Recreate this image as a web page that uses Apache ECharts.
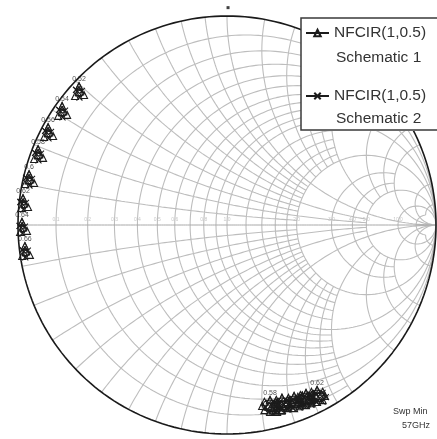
<!DOCTYPE html>
<html>
<head>
<meta charset="utf-8">
<script src="https://cdn.jsdelivr.net/npm/echarts@6/dist/echarts.min.js"></script>
<style>
  html, body { margin: 0; padding: 0; background: #ffffff; }
  #chart { width: 437px; height: 439px; }
</style>
</head>
<body>
<div id="chart"></div>
<script>
// Noise figure circles, reflection coefficient points [re, im], one group per circle
const schematic1Circles = [
  [[-0.708, 0.664], [-0.684, 0.622], [-0.727, 0.617], [-0.708, 0.664]],
  [[-0.789, 0.569], [-0.765, 0.527], [-0.808, 0.522], [-0.789, 0.569]],
  [[-0.856, 0.468], [-0.832, 0.426], [-0.875, 0.421], [-0.856, 0.468]],
  [[-0.904, 0.363], [-0.880, 0.321], [-0.923, 0.316], [-0.904, 0.363]],
  [[-0.947, 0.243], [-0.923, 0.201], [-0.966, 0.196], [-0.947, 0.243]],
  [[-0.976, 0.128], [-0.952, 0.086], [-0.985, 0.081], [-0.976, 0.128]],
  [[-0.981, 0.014], [-0.957, -0.028], [-0.990, -0.033], [-0.981, 0.014]],
  [[-0.967, -0.101], [-0.943, -0.143], [-0.980, -0.148], [-0.967, -0.101]],
  [[0.206, -0.837], [0.233, -0.846], [0.244, -0.866], [0.233, -0.886], [0.206, -0.895], [0.179, -0.886], [0.168, -0.866], [0.179, -0.846], [0.206, -0.837]],
  [[0.263, -0.827], [0.290, -0.836], [0.301, -0.856], [0.290, -0.876], [0.263, -0.885], [0.236, -0.876], [0.225, -0.856], [0.236, -0.836], [0.263, -0.827]],
  [[0.321, -0.818], [0.348, -0.827], [0.359, -0.847], [0.348, -0.867], [0.321, -0.876], [0.294, -0.867], [0.283, -0.847], [0.294, -0.827], [0.321, -0.818]],
  [[0.378, -0.804], [0.405, -0.813], [0.416, -0.833], [0.405, -0.853], [0.378, -0.862], [0.351, -0.853], [0.340, -0.833], [0.351, -0.813], [0.378, -0.804]],
  [[0.431, -0.789], [0.458, -0.798], [0.469, -0.818], [0.458, -0.838], [0.431, -0.847], [0.404, -0.838], [0.393, -0.818], [0.404, -0.798], [0.431, -0.789]],
  [[0.240, -0.850], [0.261, -0.856], [0.270, -0.872], [0.261, -0.888], [0.240, -0.894], [0.219, -0.888], [0.210, -0.872], [0.219, -0.856], [0.240, -0.850]],
  [[0.360, -0.816], [0.381, -0.822], [0.390, -0.838], [0.381, -0.854], [0.360, -0.860], [0.339, -0.854], [0.330, -0.838], [0.339, -0.822], [0.360, -0.816]]
];

const schematic2Circles = [
  [[-0.722, 0.646], [-0.694, 0.642], [-0.706, 0.610], [-0.722, 0.646]],
  [[-0.803, 0.551], [-0.775, 0.547], [-0.787, 0.515], [-0.803, 0.551]],
  [[-0.870, 0.450], [-0.842, 0.446], [-0.854, 0.414], [-0.870, 0.450]],
  [[-0.918, 0.345], [-0.890, 0.341], [-0.902, 0.309], [-0.918, 0.345]],
  [[-0.961, 0.225], [-0.933, 0.221], [-0.945, 0.189], [-0.961, 0.225]],
  [[-0.988, 0.110], [-0.962, 0.106], [-0.974, 0.074], [-0.988, 0.110]],
  [[-0.992, -0.004], [-0.967, -0.008], [-0.979, -0.040], [-0.992, -0.004]],
  [[-0.979, -0.119], [-0.953, -0.123], [-0.965, -0.155], [-0.979, -0.119]],
  [[0.184, -0.872], [0.200, -0.851], [0.232, -0.851], [0.248, -0.872], [0.232, -0.893], [0.200, -0.893], [0.184, -0.872]],
  [[0.241, -0.862], [0.257, -0.841], [0.289, -0.841], [0.305, -0.862], [0.289, -0.883], [0.257, -0.883], [0.241, -0.862]],
  [[0.299, -0.853], [0.315, -0.832], [0.347, -0.832], [0.363, -0.853], [0.347, -0.874], [0.315, -0.874], [0.299, -0.853]],
  [[0.356, -0.839], [0.372, -0.818], [0.404, -0.818], [0.420, -0.839], [0.404, -0.860], [0.372, -0.860], [0.356, -0.839]],
  [[0.409, -0.824], [0.425, -0.803], [0.457, -0.803], [0.473, -0.824], [0.457, -0.845], [0.425, -0.845], [0.409, -0.824]],
  [[0.272, -0.858], [0.286, -0.840], [0.314, -0.840], [0.328, -0.858], [0.314, -0.876], [0.286, -0.876], [0.272, -0.858]],
  [[0.387, -0.830], [0.401, -0.812], [0.429, -0.812], [0.443, -0.830], [0.429, -0.848], [0.401, -0.848], [0.387, -0.830]]
];

// Circle tags, one per circle of the first schematic (empty = untagged)
const circleLabels = ['0.52', '0.54', '0.56', '0.58', '0.6', '0.62', '0.64', '0.66', '0.58', '', '', '', '0.62', '', ''];

const seriesNames = ['Schematic 1', 'Schematic 2'];
const legendTitle = 'NFCIR(1,0.5)';
const sweepText = ['Swp Min', '57GHz'];
const topMarker = [[0.005, 1.04]];

// Smith grid: [resistance, |reactance| extent] and [reactance, resistance extent]; 0 = unbounded
const resistanceCircles = [
  [0.1, 2], [0.2, 0], [0.3, 2], [0.4, 2], [0.5, 0], [0.6, 2], [0.7, 2], [0.8, 2], [0.9, 2],
  [1.0, 0], [1.2, 2], [1.4, 2], [1.6, 2], [1.8, 2], [2.0, 0], [3.0, 5], [4.0, 5], [5.0, 0],
  [10, 0], [20, 20]
];
const reactanceArcs = [
  [0.1, 2], [0.2, 5], [0.3, 2], [0.4, 2], [0.5, 5], [0.6, 2], [0.7, 2], [0.8, 2], [0.9, 2],
  [1.0, 0], [1.2, 2], [1.4, 2], [1.6, 2], [1.8, 2], [2.0, 5], [3.0, 5], [4.0, 5], [5.0, 0],
  [10, 0], [20, 20]
];
const axisTickValues = [0.1, 0.2, 0.3, 0.4, 0.5, 0.6, 0.8, 1.0, 2.0, 3.0, 4.0, 5.0, 10];

const GAP = ['-', '-'];

// z = r + jx  ->  reflection coefficient (z - 1) / (z + 1)
function toGamma(r, x) {
  const den = (r + 1) * (r + 1) + x * x;
  return [((r - 1) * (r + 1) + x * x) / den, (2 * x) / den];
}

function resistanceCurve(r, lim) {
  const tMax = Math.atan(lim || 1e5);
  const n = 220, pts = [];
  for (let i = 0; i <= n; i++) {
    pts.push(toGamma(r, Math.tan(-tMax + (2 * tMax * i) / n)));
  }
  return pts;
}

function reactanceCurve(x, lim) {
  const sMax = Math.atan(lim || 1e5);
  const n = 160, pts = [];
  for (let i = 0; i <= n; i++) {
    pts.push(toGamma(Math.tan((sMax * i) / n), x));
  }
  return pts;
}

const gridData = [];
resistanceCircles.forEach(([r, lim]) => { gridData.push(...resistanceCurve(r, lim), GAP); });
reactanceArcs.forEach(([x, lim]) => {
  gridData.push(...reactanceCurve(x, lim), GAP);
  gridData.push(...reactanceCurve(-x, lim), GAP);
});

function joinCircles(groups) {
  const out = [];
  groups.forEach((g, i) => { if (i) out.push(GAP); out.push(...g); });
  return out;
}

const tickLabelData = axisTickValues.map(r => [toGamma(r, 0)[0], 0.028, r.toFixed(1)]);

const chart = echarts.init(document.getElementById('chart'), null, { renderer: 'canvas' });

const darkInk = '#1c1c1c';
const crossPath = 'path://M0,0L10,10M10,0L0,10';
const uiFont = 'Liberation Sans, Arial, sans-serif';

chart.setOption({
  animation: false,
  backgroundColor: '#ffffff',
  grid: { left: 18, top: 16, width: 418, height: 418 },
  xAxis: { type: 'value', min: -1, max: 1, show: false },
  yAxis: { type: 'value', min: -1, max: 1, show: false },
  legend: {
    data: seriesNames,
    left: 301,
    top: 18,
    orient: 'vertical',
    itemWidth: 23,
    itemHeight: 8,
    itemGap: 47,
    padding: [7, 40, 27, 4],
    backgroundColor: '#ffffff',
    borderWidth: 0,
    formatter: () => legendTitle,
    textStyle: { fontFamily: uiFont, fontSize: 15.5, color: '#333333' },
    z: 20
  },
  graphic: [
    // legend frame, running past the right edge of the canvas
    { type: 'rect', z: 100, silent: true,
      shape: { x: 301, y: 18, width: 180, height: 112 },
      style: { fill: 'none', stroke: '#3a3a3a', lineWidth: 1.5 } },
    { type: 'text', left: 336, top: 50, z: 100,
      style: { text: seriesNames[0], fontFamily: uiFont, fontSize: 15.5, fill: '#333333' } },
    { type: 'text', left: 336, top: 111, z: 100,
      style: { text: seriesNames[1], fontFamily: uiFont, fontSize: 15.5, fill: '#333333' } },
    { type: 'text', left: 393, top: 407, z: 100,
      style: { text: sweepText[0], fontFamily: uiFont, fontSize: 9, fill: '#333333' } },
    { type: 'text', left: 402, top: 421, z: 100,
      style: { text: sweepText[1], fontFamily: uiFont, fontSize: 9, fill: '#333333' } }
  ],
  series: [
    {
      name: 'grid',
      type: 'line',
      data: gridData,
      symbol: 'none',
      silent: true,
      clip: false,
      connectNulls: false,
      lineStyle: { color: '#bdbdbd', width: 1.1 },
      z: 1
    },
    {
      name: 'real axis',
      type: 'line',
      data: reactanceCurve(0, 0),
      symbol: 'none',
      silent: true,
      clip: false,
      lineStyle: { color: '#a8a8a8', width: 1 },
      z: 2
    },
    {
      name: 'boundary',
      type: 'line',
      data: resistanceCurve(0, 0),
      symbol: 'none',
      silent: true,
      clip: false,
      lineStyle: { color: '#1a1a1a', width: 1.6 },
      z: 3
    },
    {
      name: 'tick labels',
      type: 'scatter',
      data: tickLabelData,
      symbol: 'circle',
      symbolSize: 1,
      silent: true,
      itemStyle: { color: 'rgba(0,0,0,0)' },
      label: {
        show: true, position: 'inside', fontSize: 5, color: '#b8b8b8',
        formatter: p => p.value[2]
      },
      z: 2
    },
    {
      name: seriesNames[0],
      type: 'line',
      data: joinCircles(schematic1Circles),
      connectNulls: false,
      clip: false,
      symbol: 'triangle',
      symbolSize: 7,
      itemStyle: { color: 'rgba(255,255,255,0)', borderColor: darkInk, borderWidth: 1.1 },
      lineStyle: { color: darkInk, width: 1.1 },
      z: 10
    },
    {
      name: seriesNames[1],
      type: 'line',
      data: joinCircles(schematic2Circles),
      connectNulls: false,
      clip: false,
      symbol: crossPath,
      symbolSize: 6,
      itemStyle: { color: 'rgba(255,255,255,0)', borderColor: darkInk, borderWidth: 1.1 },
      lineStyle: { color: darkInk, width: 1.1 },
      z: 10
    },
    {
      name: 'circle tags',
      type: 'scatter',
      data: schematic1Circles.map((g, i) => [g[0][0], g[0][1], circleLabels[i]]),
      symbol: 'circle',
      symbolSize: 1,
      silent: true,
      clip: false,
      itemStyle: { color: 'rgba(0,0,0,0)' },
      label: {
        show: true, position: 'top', distance: 3, fontSize: 7, color: darkInk,
        fontFamily: uiFont,
        formatter: p => p.value[2]
      },
      z: 11
    },
    {
      name: 'top marker',
      type: 'scatter',
      data: topMarker,
      symbol: 'rect',
      symbolSize: 3,
      clip: false,
      silent: true,
      itemStyle: { color: '#111111' },
      z: 11
    }
  ]
});
</script>
</body>
</html>
